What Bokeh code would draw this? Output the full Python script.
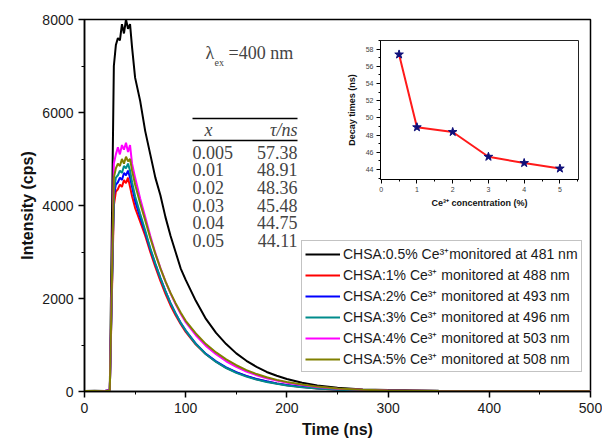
from bokeh.plotting import figure
from bokeh.models import (Range1d, Legend, LegendItem, Label, GridBox,
                          SingleIntervalTicker)
from bokeh.embed import file_html
from bokeh.resources import INLINE

# ---------------- data ----------------
time_ns = [0, 10, 20, 25, 27, 29, 31, 33, 35, 37, 39, 41, 43, 45, 47,
           50, 55, 60, 65, 70, 75, 80, 85, 90, 95, 100,
           110, 120, 130, 140, 150, 160, 170, 180, 190, 200,
           215, 230, 250, 275, 300, 350, 400, 450, 500]

ce_05 = [10, 15, 10, 30, 3500, 7000, 7450, 7600, 7550, 7900, 7700, 8000, 7800, 7900, 7400,
         6750, 6250, 5600, 5100, 4600, 4220, 3750, 3350, 3000, 2650, 2400,
         1950, 1560, 1260, 1020, 820, 660, 530, 420, 340, 270,
         190, 130, 80, 45, 30, 15, 10, 8, 5]
ce_1 = [5, 10, 8, 20, 2000, 4000, 4300, 4350, 4450, 4400, 4550, 4480, 4600, 4400, 4200,
        3950, 3650, 3350, 3000, 2680, 2380, 2100, 1850, 1640, 1450, 1280,
        1010, 800, 640, 510, 410, 330, 265, 215, 170, 135,
        95, 65, 40, 25, 15, 8, 6, 5, 4]
ce_2 = [8, 5, 10, 20, 2100, 4200, 4450, 4500, 4600, 4550, 4700, 4650, 4750, 4600, 4400,
        4100, 3750, 3420, 3060, 2740, 2440, 2160, 1900, 1680, 1480, 1310,
        1030, 810, 650, 520, 415, 335, 270, 220, 175, 140,
        100, 70, 45, 28, 16, 9, 6, 5, 4]
ce_3 = [6, 8, 5, 20, 2150, 4300, 4600, 4650, 4750, 4700, 4850, 4800, 4900, 4750, 4500,
        4200, 3820, 3460, 3080, 2750, 2440, 2160, 1900, 1680, 1480, 1310,
        1020, 800, 635, 505, 400, 320, 255, 205, 165, 130,
        92, 64, 40, 24, 15, 8, 6, 5, 4]
ce_4 = [10, 6, 9, 25, 2400, 4900, 5100, 5250, 5100, 5300, 5200, 5350, 5150, 5300, 4900,
        4600, 4150, 3750, 3350, 2980, 2660, 2370, 2110, 1880, 1670, 1490,
        1210, 980, 800, 650, 530, 430, 350, 285, 235, 190,
        140, 98, 60, 35, 20, 10, 7, 6, 5]
ce_5 = [12, 10, 6, 20, 2300, 4600, 4800, 4900, 4850, 5000, 4900, 5050, 4950, 5000, 4750,
        4450, 4050, 3680, 3300, 2960, 2650, 2370, 2120, 1900, 1700, 1520,
        1250, 1020, 840, 690, 565, 460, 375, 305, 250, 205,
        150, 105, 65, 38, 22, 11, 8, 6, 5]

series_labels = [
    "CHSA:0.5% Ce\u00b3\u207amonitored at 481 nm",
    "CHSA:1% Ce\u00b3\u207a monitored at 488 nm",
    "CHSA:2% Ce\u00b3\u207a monitored at 493 nm",
    "CHSA:3% Ce\u00b3\u207a monitored at 496 nm",
    "CHSA:4% Ce\u00b3\u207a monitored at 503 nm",
    "CHSA:5% Ce\u00b3\u207a monitored at 508 nm",
]
series_colors = ["#000000", "#ff0000", "#0000ff", "#008c8c", "#ff00ff", "#808000"]

conc_pct = [0.5, 1, 2, 3, 4, 5]
decay_ns = [57.38, 48.91, 48.36, 45.48, 44.75, 44.11]
table_x = ["0.005", "0.01", "0.02", "0.03", "0.04", "0.05"]

# ---------------- main figure ----------------
p = figure(width=602, height=441, x_range=Range1d(0, 500), y_range=Range1d(0, 8000),
           output_backend="svg", toolbar_location=None,
           min_border_left=84, min_border_right=12, min_border_top=19, min_border_bottom=50)
p.xgrid.visible = False
p.ygrid.visible = False
p.outline_line_color = "black"
p.outline_line_width = 1.5
p.xaxis.ticker = SingleIntervalTicker(interval=100, num_minor_ticks=2)
p.yaxis.ticker = SingleIntervalTicker(interval=2000, num_minor_ticks=2)
for ax in (p.xaxis[0], p.yaxis[0]):
    ax.axis_line_width = 1.5
    ax.major_tick_line_width = 1.5
    ax.major_tick_out = 6
    ax.major_tick_in = 0
    ax.minor_tick_out = 3
    ax.minor_tick_in = 0
    ax.major_label_text_font = "Liberation Sans"
    ax.major_label_text_font_size = "14px"
    ax.major_label_text_color = "#1a1a1a"
    ax.major_label_standoff = 5
    ax.axis_label_text_font = "Liberation Sans"
    ax.axis_label_text_font_size = "16px"
    ax.axis_label_text_font_style = "bold"
    ax.axis_label_text_color = "#111111"
p.xaxis.axis_label = "Time (ns)"
p.yaxis.axis_label = "Intensity (cps)"
p.xaxis.axis_label_standoff = 5
p.yaxis.axis_label_standoff = 3

all_series = [ce_05, ce_1, ce_2, ce_3, ce_4, ce_5]
items = []
for ys, col, lab in zip(all_series, series_colors, series_labels):
    r = p.line(time_ns, ys, line_color=col, line_width=2)
    items.append(LegendItem(label=lab, renderers=[r]))

legend = Legend(items=items, location=(217, 19))
legend.label_text_font = "Liberation Sans"
legend.label_text_font_size = "14px"
legend.label_text_color = "#1a1a1a"
legend.glyph_width = 35
legend.glyph_height = 18
legend.label_height = 18
legend.label_standoff = 3
legend.spacing = 2
legend.padding = 3
legend.margin = 0
legend.border_line_color = "#888888"
legend.border_line_width = 1
legend.background_fill_color = "white"
legend.background_fill_alpha = 1
p.add_layout(legend)

# annotation helpers (screen pixel -> data units of main plot)
def tx(px):
    return (px - 84) * 500 / 506

def iy(py):
    return (391 - py) * 8000 / 372

serif = "Liberation Serif"
p.add_layout(Label(x=tx(205), y=iy(52), text="\u03bb", text_font=serif, text_font_size="18px",
                   text_baseline="middle", text_align="left"))
p.add_layout(Label(x=tx(214), y=iy(62), text="ex", text_font=serif, text_font_size="10px",
                   text_baseline="middle", text_align="left"))
p.add_layout(Label(x=tx(228), y=iy(52), text="=400 nm", text_font=serif, text_font_size="18px",
                   text_baseline="middle", text_align="left"))

p.segment(x0=[tx(192), tx(192)], y0=[iy(118), iy(140)], x1=[tx(297), tx(297)],
          y1=[iy(118), iy(140)], line_color="black", line_width=1.3)
p.add_layout(Label(x=tx(208), y=iy(129), text="x", text_font=serif, text_font_size="18px",
                   text_font_style="italic", text_baseline="middle", text_align="center"))
p.add_layout(Label(x=tx(297), y=iy(129), text="\u03c4/ns", text_font=serif, text_font_size="18px",
                   text_font_style="italic", text_baseline="middle", text_align="right"))
for i, (xs, tau) in enumerate(zip(table_x, decay_ns)):
    yy = iy(151.7 + 17.6 * i)
    p.add_layout(Label(x=tx(192), y=yy, text=xs, text_font=serif, text_font_size="18px",
                       text_baseline="middle", text_align="left"))
    p.add_layout(Label(x=tx(297), y=yy, text=f"{tau:.2f}", text_font=serif, text_font_size="18px",
                       text_baseline="middle", text_align="right"))

# ---------------- inset ----------------
inset = figure(width=294, height=208, x_range=Range1d(-0.02, 5.52), y_range=Range1d(42.83, 59.0),
               output_backend="svg", toolbar_location=None,
               min_border_left=40, min_border_right=3, min_border_top=2, min_border_bottom=26)
inset.xgrid.visible = False
inset.ygrid.visible = False
inset.background_fill_color = "white"
inset.border_fill_color = None
inset.outline_line_color = "#222222"
inset.outline_line_width = 1
inset.xaxis.ticker = SingleIntervalTicker(interval=1, num_minor_ticks=2)
inset.yaxis.ticker = SingleIntervalTicker(interval=2, num_minor_ticks=2)
for ax in (inset.xaxis[0], inset.yaxis[0]):
    ax.axis_line_width = 1
    ax.major_tick_out = 4
    ax.major_tick_in = 0
    ax.minor_tick_out = 2
    ax.minor_tick_in = 0
    ax.major_label_text_font = "Liberation Sans"
    ax.major_label_text_font_size = "7px"
    ax.major_label_text_color = "#444444"
    ax.major_label_standoff = 3
    ax.axis_label_text_font = "Liberation Sans"
    ax.axis_label_text_font_size = "9px"
    ax.axis_label_text_font_style = "bold"
    ax.axis_label_text_color = "#111111"
inset.xaxis.axis_label = "Ce\u00b3\u207a concentration (%)"
inset.yaxis.axis_label = "Decay times (ns)"
inset.xaxis.axis_label_standoff = 3
inset.yaxis.axis_label_standoff = 6
inset.line(conc_pct, decay_ns, line_color="#ff1a1a", line_width=2)
inset.scatter(conc_pct, decay_ns, marker="star", size=9, fill_color="#10107a", line_color="#10107a")
inset.margin = (21, 0, 0, 296)

root = GridBox(children=[(p, 0, 0), (inset, 0, 0)])

with open("out.html", "w") as f:
    f.write(file_html(root, INLINE))
